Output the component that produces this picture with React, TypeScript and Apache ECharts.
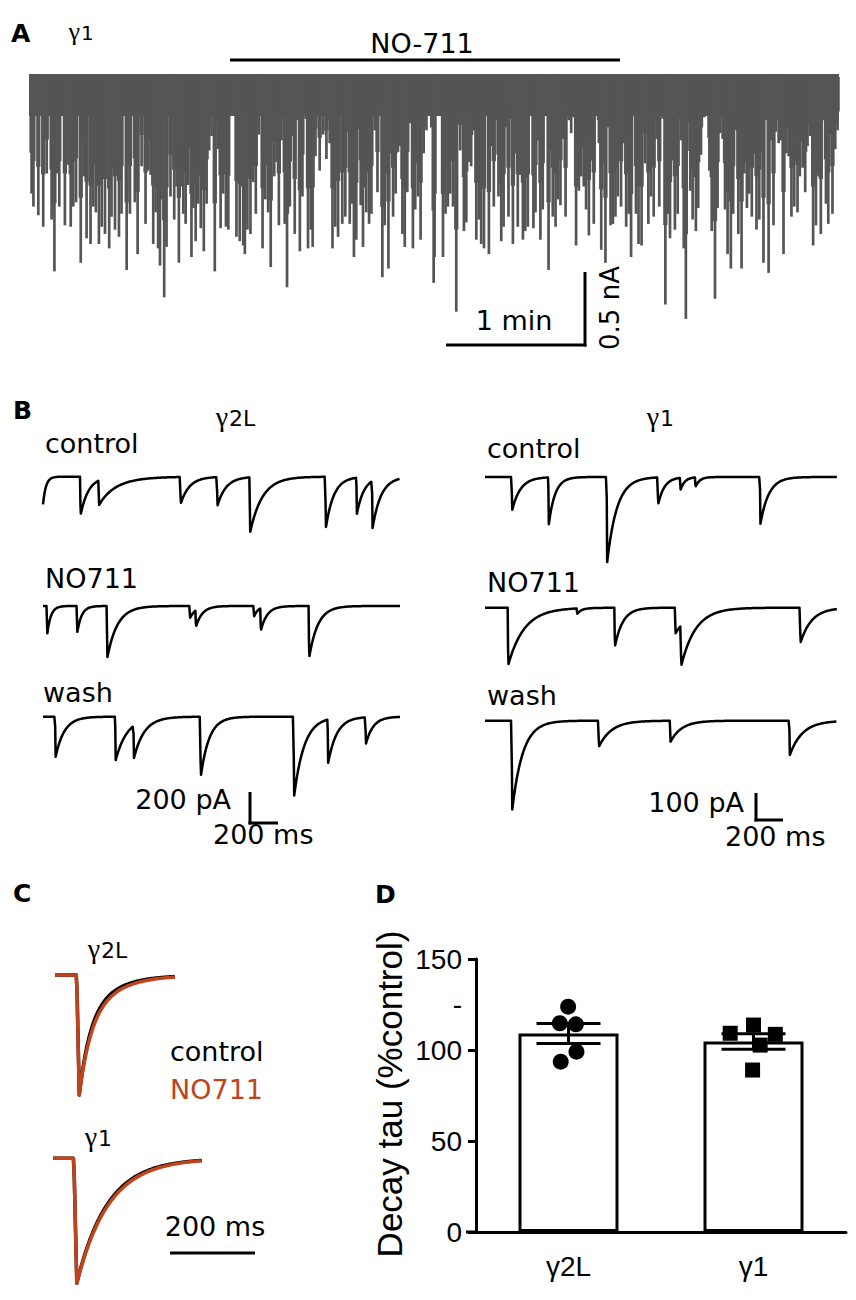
import React, { useEffect, useRef } from "react";
import * as echarts from "echarts";

// ---------- Panel A: spontaneous events over the whole recording (time s, amplitude nA) ----------
const aDuration = 347.5;
const aBand = [0.02, -0.27]; // baseline noise envelope (nA)
const aSpikes: number[][] = [
  [1.1,0.81],[1.9,0.90],[4.0,0.96],[6.1,1.04],[7.6,0.67],[9.7,0.99],[10.9,1.35],[12.1,0.67],[13.0,0.90],[15.4,1.03],
  [16.9,0.61],[17.9,1.04],[19.0,0.90],[20.2,0.87],[22.2,1.29],[23.6,0.69],[24.7,1.12],[26.4,1.16],[27.6,0.90],[28.7,0.94],
  [30.0,1.16],[31.2,1.04],[32.6,1.09],[34.4,1.19],[35.4,0.97],[36.9,1.06],[38.6,1.11],[39.7,0.95],[41.9,1.34],[43.3,0.95],
  [45.4,0.87],[46.6,1.23],[48.3,0.62],[50.0,1.02],[51.2,0.65],[52.2,0.68],[53.3,1.16],[54.3,0.94],[55.4,1.19],[56.2,1.31],
  [58.0,1.53],[59.0,1.18],[60.7,0.83],[62.3,0.99],[63.3,0.76],[64.3,1.29],[65.5,0.76],[66.2,0.95],[67.2,1.02],[68.3,0.75],
  [69.7,1.25],[70.5,0.91],[71.5,1.14],[72.6,0.88],[73.7,1.05],[75.0,1.21],[76.2,0.88],[77.3,0.51],[78.3,0.41],[79.7,1.35],
  [81.2,0.50],[82.2,1.05],[83.3,0.81],[84.5,1.04],[85.5,1.06],
  [89.0,1.11],[90.4,1.14],[91.9,1.17],[92.6,1.23],[93.7,1.06],[95.0,1.09],[96.2,0.73],[97.3,0.95],[98.6,0.40],[100.2,1.19],
  [101.4,0.85],[102.6,0.94],[103.7,1.32],[105.2,0.69],[106.2,0.59],[107.2,1.03],[108.3,0.44],[109.7,1.02],[110.7,1.46],[111.9,0.90],
  [113.0,0.41],[114.0,1.09],[115.2,0.30],[116.2,1.21],[117.3,0.83],[118.7,0.29],[119.7,1.19],[120.9,1.06],[121.7,1.18],[122.9,0.55],
  [124.7,0.65],[126.2,0.40],[127.6,0.57],[129.0,0.46],[130.2,1.19],[131.4,1.04],[132.6,1.11],[133.7,0.25],[134.4,1.02],[135.7,0.97],
  [136.9,0.38],[137.6,1.02],[138.6,0.88],[139.4,1.25],[140.4,1.13],[141.2,0.36],[142.3,0.89],[143.3,1.18],[144.7,0.94],[145.9,1.02],
  [146.9,0.95],[148.3,0.37],[149.5,0.80],[150.6,0.24],[151.6,1.39],[152.6,1.03],[153.3,0.65],[154.2,1.33],[155.2,0.53],[156.2,0.97],
  [157.3,0.81],[158.3,0.52],[159.3,0.48],[160.2,1.09],[161.2,1.18],[162.3,0.80],[163.5,0.32],[164.7,1.19],[165.7,0.92],[166.9,0.83],
  [168.0,1.13],[169.3,0.53],[170.5,0.37],[171.5,0.22],[172.6,0.35],[173.6,1.43],
  [174.0,1.25],[177.6,1.25],[178.7,0.95],[179.7,0.90],[180.7,0.81],[181.9,0.90],[183.3,1.63],[185.0,0.51],[186.6,1.07],[187.6,1.01],
  [188.7,0.59],[189.7,0.62],[190.9,0.37],[191.9,1.13],[193.0,0.99],[194.0,1.16],[195.2,1.19],[196.2,0.22],[197.3,1.23],[198.3,0.48],
  [199.4,0.90],[200.4,0.30],[201.4,0.83],[202.6,1.14],[203.6,1.04],[204.7,0.35],[205.7,0.97],[206.9,0.29],[207.6,1.16],[208.7,0.53],
  [209.7,1.04],[210.7,0.68],[211.9,1.13],[212.9,1.07],[214.0,1.04],[215.4,0.23],[216.4,1.05],[217.3,0.94],[218.3,0.44],[219.4,1.13],
  [220.4,0.92],[221.6,0.25],[222.9,1.34],[223.7,0.51],[224.7,0.97],[225.9,1.04],[226.9,0.85],[228.0,0.89],[229.0,0.43],[230.2,0.97],
  [231.6,0.30],[232.6,0.39],[233.7,0.28],[234.7,1.17],[235.9,0.79],[236.9,0.69],[238.0,0.76],[239.0,0.92],[240.2,1.10],[241.2,0.58],
  [242.3,1.02],[243.3,0.24],[244.5,0.46],[245.5,1.20],[246.5,0.60],[247.3,1.29],[248.3,0.35],[249.5,1.03],[250.5,1.02],[251.6,0.97],
  [252.6,0.83],[254.0,0.90],[255.2,0.46],[256.2,1.04],[257.3,0.95],[258.3,1.25],[259.3,0.26],[260.4,0.95],[261.5,1.16],
  [262.8,1.17],[264.3,0.60],[265.7,1.02],[266.8,0.83],[268.0,0.97],[269.3,0.43],[270.4,0.90],[271.8,0.29],[273.0,1.58],[274.0,0.95],
  [275.0,1.12],[276.1,0.58],[277.1,1.06],[278.3,0.95],[279.7,0.44],[280.9,1.19],[281.8,1.68],[282.8,0.31],[283.7,0.79],[284.7,0.99],
  [286.1,1.07],[287.1,0.91],[288.3,0.54],[289.7,0.28],[290.9,0.25],[291.9,0.65],[292.9,1.07],[294.3,1.54],[295.4,0.91],[296.6,0.39],
  [297.6,0.43],[298.6,0.92],[299.7,1.23],[301.1,1.33],[302.1,0.95],[303.3,0.37],[304.3,1.09],[305.7,1.33],[306.9,0.67],[308.0,0.91],
  [309.0,0.81],[310.1,0.97],[311.1,0.53],[312.1,1.06],[313.3,0.99],[314.0,0.52],[315.1,1.29],[316.3,0.30],[317.3,1.36],[318.3,0.44],
  [319.4,1.03],[320.4,0.38],[321.6,0.46],[322.6,0.44],[323.7,1.23],[324.9,0.53],[325.9,0.55],[327.1,0.97],[328.3,0.90],[329.7,0.94],
  [330.7,0.69],[331.9,0.63],[333.0,0.80],[334.0,0.48],[335.1,0.41],[336.4,1.17],[337.6,1.03],[338.7,0.69],[339.7,1.09],[340.9,0.30],
  [341.9,0.88],[342.9,1.02],[344.0,0.40],[344.7,0.95],[345.9,0.50],[346.9,0.37],
];

// ---------- Panel B: sIPSC events [onset ms, amplitude pA, decay tau ms] ----------
const bLeftDuration = 2460;
const bRightDuration = 2515;
const bLeftControl: number[][] = [[-10,250,20],[255,255,55],[382,165,130],[945,178,60],[1198,190,60],[1423,367,85],[1945,340,55],[2159,240,50],[2267,314,60]];
const bLeftNO711: number[][] = [[25,189,25],[232,178,30],[439,344,70],[1009,80,40],[1050,110,45],[1450,70,30],[1497,150,45],[1830,344,60]];
const bLeftWash: number[][] = [[83,267,60],[497,289,80],[623,215,70],[1083,400,58],[1726,533,70],[1961,289,60],[2221,178,50]];
const bRightControl: number[][] = [[190,123,60],[452,173,45],[869,315,70],[1233,100,45],[1393,45,30],[1500,35,30],[1964,173,60]];
const bRightNO711: number[][] = [[162,212,115],[655,20,30],[924,144,57],[1357,95,110],[1398,150,100],[2250,130,80]];
const bRightWash: number[][] = [[190,333,75],[810,96,90],[1321,78,80],[2174,127,90]];

// ---------- Panel C: averaged, peak-normalised sIPSCs [onset ms, fraction, tau ms] ----------
const cG2Duration = 282;
const cG1Duration = 350;
const cG2Control: number[][] = [[51,0.6,25],[51,0.4,65]];
const cG2NO711: number[][] = [[51,0.58,27],[51,0.42,70]];
const cG1Control: number[][] = [[49,1,72]];
const cG1NO711: number[][] = [[49,1,75]];

// ---------- Panel D: decay tau (% control) ----------
const dCategories = ["γ2L", "γ1"];
const dG2Offsets = [-0.002, -0.047, 0.04, 0.043, -0.042];
const dG2Values = [123.8, 114.7, 114.1, 99.1, 93.6];
const dG1Offsets = [-0.126, 0, 0.118, 0.036, -0.005];
const dG1Values = [109.2, 113.7, 108.6, 102.7, 89.0];

const GRAY = "#555555";
const ORANGE = "#c1431c";
const SANS = "DejaVu Sans";
const SERIF = "Liberation Serif";
const ARIAL = "Liberation Sans";

function trace(events: number[][], duration: number, rise: number, step: number): number[][] {
  const pts: number[][] = [];
  for (let t = 0; t <= duration + 1e-9; t += step) {
    let v = 0;
    for (const [t0, a, tau] of events) {
      const dt = t - t0;
      if (dt < 0) continue;
      v -= dt < rise ? (a * dt) / rise : a * Math.exp(-(dt - rise) / tau);
    }
    pts.push([+t.toFixed(2), +v.toFixed(3)]);
  }
  return pts;
}

function mean(a: number[]) { return a.reduce((s, v) => s + v, 0) / a.length; }
function sem(a: number[]) {
  const m = mean(a);
  const sd = Math.sqrt(a.reduce((s, v) => s + (v - m) * (v - m), 0) / (a.length - 1));
  return sd / Math.sqrt(a.length);
}

function txt(x: number, y: number, text: string, opt: any = {}) {
  const align = opt.align || "left";
  const style: any = {
    text,
    x: 0,
    y: 0,
    fontSize: opt.size || 27,
    fontFamily: opt.family || SANS,
    fontWeight: opt.weight || "normal",
    fill: opt.fill || "#000",
    textAlign: align,
    align,
    textVerticalAlign: "middle",
    verticalAlign: "middle",
  };
  return { type: "text", x, y, rotation: opt.rotation || 0, style, z: 10 };
}
// gamma (serif) followed by a sans suffix sharing its baseline, split at x
function gammaLabel(split: number, y: number, suffix: string, size: number, gSize: number) {
  const yG = y + 0.346 * size - 0.3375 * gSize;
  return [
    txt(split, yG, "γ", { align: "right", size: gSize, family: SERIF }),
    txt(split + 1, y, suffix, { size }),
  ];
}
function seg(x1: number, y1: number, x2: number, y2: number, w = 3) {
  return { type: "line", shape: { x1, y1, x2, y2 }, style: { stroke: "#000", lineWidth: w }, z: 10 };
}

function buildOption() {
  const grids = [
    { left: 29, top: 69.8, width: 810, height: 259.2 },
    { left: 43, top: 470.7, width: 357, height: 96 },
    { left: 43, top: 600, width: 357, height: 96 },
    { left: 43, top: 710.7, width: 357, height: 96 },
    { left: 485, top: 471.6, width: 352, height: 102.6 },
    { left: 485, top: 602.3, width: 352, height: 102.6 },
    { left: 485, top: 715.3, width: 352, height: 102.6 },
    { left: 55, top: 969, width: 120, height: 132 },
    { left: 53, top: 1152, width: 148.75, height: 137.5 },
    { left: 476, top: 959, width: 370, height: 273 },
  ];
  const xr = [
    [0, aDuration],
    [0, bLeftDuration], [0, bLeftDuration], [0, bLeftDuration],
    [0, bRightDuration], [0, bRightDuration], [0, bRightDuration],
    [0, cG2Duration], [0, cG1Duration],
  ];
  const yr = [
    [-1.75, 0.05],
    [-600, 40], [-600, 40], [-600, 40],
    [-360, 20], [-360, 20], [-360, 20],
    [-1.05, 0.05], [-1.05, 0.05],
  ];
  const xAxis: any[] = xr.map((r, i) => ({ type: "value", gridIndex: i, min: r[0], max: r[1], show: false }));
  const yAxis: any[] = yr.map((r, i) => ({ type: "value", gridIndex: i, min: r[0], max: r[1], show: false }));

  xAxis.push({
    type: "category", gridIndex: 9, data: dCategories,
    axisLine: { lineStyle: { color: "#000", width: 3 } },
    axisTick: { alignWithLabel: true, length: 10, lineStyle: { color: "#000", width: 3 } },
    axisLabel: { fontSize: 28, fontFamily: ARIAL, color: "#000", margin: 20 },
  });
  xAxis.push({ type: "value", gridIndex: 9, min: 0, max: 2, show: false });
  yAxis.push({
    type: "value", gridIndex: 9, min: 0, max: 150, interval: 50,
    axisLine: { show: true, lineStyle: { color: "#000", width: 3 } },
    axisTick: { show: true, length: 8, lineStyle: { color: "#000", width: 3 }, customValues: [0, 50, 100, 150] },
    axisLabel: {
      fontSize: 28, fontFamily: ARIAL, color: "#000", margin: 14,
      customValues: [0, 50, 100, 125, 150],
      formatter: (v: number) => (v === 125 ? "-" : String(v)),
    },
    splitLine: { show: false },
  });

  const line = (i: number, data: number[][], color: string, width: number, z = 2) => ({
    type: "line", xAxisIndex: i, yAxisIndex: i, data, symbol: "none", showSymbol: false, silent: true, z,
    lineStyle: { color, width, join: "round" }, clip: false,
  });

  const means = [mean(dG2Values), mean(dG1Values)];
  const sems = [sem(dG2Values), sem(dG1Values)];

  const series: any[] = [
    {
      // baseline noise band of the long recording
      type: "custom", xAxisIndex: 0, yAxisIndex: 0, silent: true, z: 2,
      data: [[0, aDuration, aBand[0], aBand[1]]],
      renderItem: (params: any, api: any) => {
        const p0 = api.coord([api.value(0), api.value(2)]);
        const p1 = api.coord([api.value(1), api.value(3)]);
        return { type: "rect", shape: { x: p0[0], y: p0[1], width: p1[0] - p0[0], height: p1[1] - p0[1] }, style: { fill: GRAY } };
      },
    },
    {
      // individual events: tapered vertical deflections from baseline
      type: "custom", xAxisIndex: 0, yAxisIndex: 0, silent: true, z: 2,
      data: aSpikes.map(([t, a]) => [t, -a]),
      encode: { x: 0, y: 1 },
      renderItem: (params: any, api: any) => {
        const t = api.value(0), a = api.value(1);
        const top = api.coord([t, 0]);
        const mid = api.coord([t, a * 0.65]);
        const bot = api.coord([t, a]);
        const wWide = 4.3, wThin = 2.7;
        return {
          type: "group",
          children: [
            { type: "rect", shape: { x: top[0] - wWide / 2, y: top[1], width: wWide, height: mid[1] - top[1] }, style: { fill: GRAY } },
            { type: "rect", shape: { x: top[0] - wThin / 2, y: top[1], width: wThin, height: bot[1] - top[1] }, style: { fill: GRAY } },
          ],
        };
      },
    },
    line(1, trace(bLeftControl, bLeftDuration, 4, 3), "#000", 2.5),
    line(2, trace(bLeftNO711, bLeftDuration, 4, 3), "#000", 2.5),
    line(3, trace(bLeftWash, bLeftDuration, 4, 3), "#000", 2.5),
    line(4, trace(bRightControl, bRightDuration, 4, 3), "#000", 2.5),
    line(5, trace(bRightNO711, bRightDuration, 4, 3), "#000", 2.5),
    line(6, trace(bRightWash, bRightDuration, 4, 3), "#000", 2.5),
    line(7, trace(cG2Control, cG2Duration, 6, 1), "#000", 3.5, 2),
    line(7, trace(cG2NO711, cG2Duration, 6, 1), ORANGE, 3.5, 3),
    line(8, trace(cG1Control, cG1Duration, 7, 1), "#000", 3.5, 2),
    line(8, trace(cG1NO711, cG1Duration, 7, 1), ORANGE, 3.5, 3),
    {
      type: "bar", xAxisIndex: 9, yAxisIndex: 9, data: means, barWidth: 100, silent: true, z: 2,
      itemStyle: { color: "#fff", borderColor: "#000", borderWidth: 3 },
    },
    {
      type: "custom", xAxisIndex: 9, yAxisIndex: 9, silent: true, z: 3,
      data: means.map((m, i) => [i, m, sems[i]]),
      encode: { x: 0, y: 1 },
      renderItem: (params: any, api: any) => {
        const i = api.value(0), m = api.value(1), s = api.value(2);
        const hi = api.coord([i, m + s]);
        const lo = api.coord([i, m - s]);
        const half = 32;
        const st = { stroke: "#000", lineWidth: 3 };
        return {
          type: "group",
          children: [
            { type: "line", shape: { x1: hi[0], y1: hi[1], x2: lo[0], y2: lo[1] }, style: st },
            { type: "line", shape: { x1: hi[0] - half, y1: hi[1], x2: hi[0] + half, y2: hi[1] }, style: st },
            { type: "line", shape: { x1: lo[0] - half, y1: lo[1], x2: lo[0] + half, y2: lo[1] }, style: st },
          ],
        };
      },
    },
    {
      type: "scatter", xAxisIndex: 10, yAxisIndex: 9, silent: true, z: 4,
      symbol: "circle", symbolSize: 16, itemStyle: { color: "#000", opacity: 1 },
      data: dG2Values.map((v, i) => [0.5 + dG2Offsets[i], v]),
    },
    {
      type: "scatter", xAxisIndex: 10, yAxisIndex: 9, silent: true, z: 4,
      symbol: "rect", symbolSize: 15, itemStyle: { color: "#000", opacity: 1 },
      data: dG1Values.map((v, i) => [1.5 + dG1Offsets[i], v]),
    },
  ];

  const graphic: any[] = [
    // Panel A
    txt(11, 33, "A", { size: 25, weight: "bold" }),
    ...gammaLabel(80, 33, "1", 20, 26),
    txt(422, 43, "NO-711", { align: "center" }),
    seg(230, 60, 620, 60),
    txt(514, 320, "1 min", { align: "center" }),
    seg(446, 345, 586.5, 345),
    seg(585, 272, 585, 346.5),
    txt(610, 308, "0.5 nA", { align: "center", rotation: Math.PI / 2, size: 26 }),
    // Panel B
    txt(13, 410, "B", { size: 25, weight: "bold" }),
    ...gammaLabel(228, 418, "2L", 22, 28),
    txt(45, 443, "control"),
    txt(45, 578, "NO711"),
    txt(43, 692, "wash"),
    ...gammaLabel(659, 418, "1", 22, 28),
    txt(487, 448, "control"),
    txt(487, 582, "NO711"),
    txt(487, 695, "wash"),
    txt(231, 799, "200 pA", { align: "right" }),
    txt(213, 834, "200 ms"),
    seg(250, 792, 250, 824.5),
    seg(248.5, 823, 278, 823),
    txt(744, 802, "100 pA", { align: "right" }),
    txt(725, 836, "200 ms"),
    seg(756, 793, 756, 821.5),
    seg(754.5, 820, 783, 820),
    // Panel C
    txt(13, 893, "C", { size: 25, weight: "bold" }),
    ...gammaLabel(100, 950, "2L", 22, 28),
    txt(170, 1051, "control"),
    txt(170, 1089, "NO711", { fill: ORANGE }),
    ...gammaLabel(97, 1138, "1", 22, 28),
    txt(215, 1226, "200 ms", { align: "center" }),
    seg(170, 1253, 255, 1253),
    // Panel D
    txt(375, 894, "D", { size: 25, weight: "bold" }),
    txt(389, 1094, "Decay tau (%control)", { align: "center", rotation: Math.PI / 2, size: 35, family: ARIAL }),
    seg(466, 1232, 478, 1232),
  ];

  return {
    animation: false,
    backgroundColor: "#fff",
    grid: grids.map((g) => ({ ...g, containLabel: false })),
    xAxis,
    yAxis,
    series,
    graphic,
  };
}

export default function App() {
  const ref = useRef<HTMLDivElement>(null);
  useEffect(() => {
    if (!ref.current) return;
    const chart = echarts.init(ref.current, null, { renderer: "svg" });
    chart.setOption(buildOption() as any);
    return () => chart.dispose();
  }, []);
  return <div ref={ref} style={{ position: "absolute", left: 0, top: 0, width: 856, height: 1300 }} />;
}
